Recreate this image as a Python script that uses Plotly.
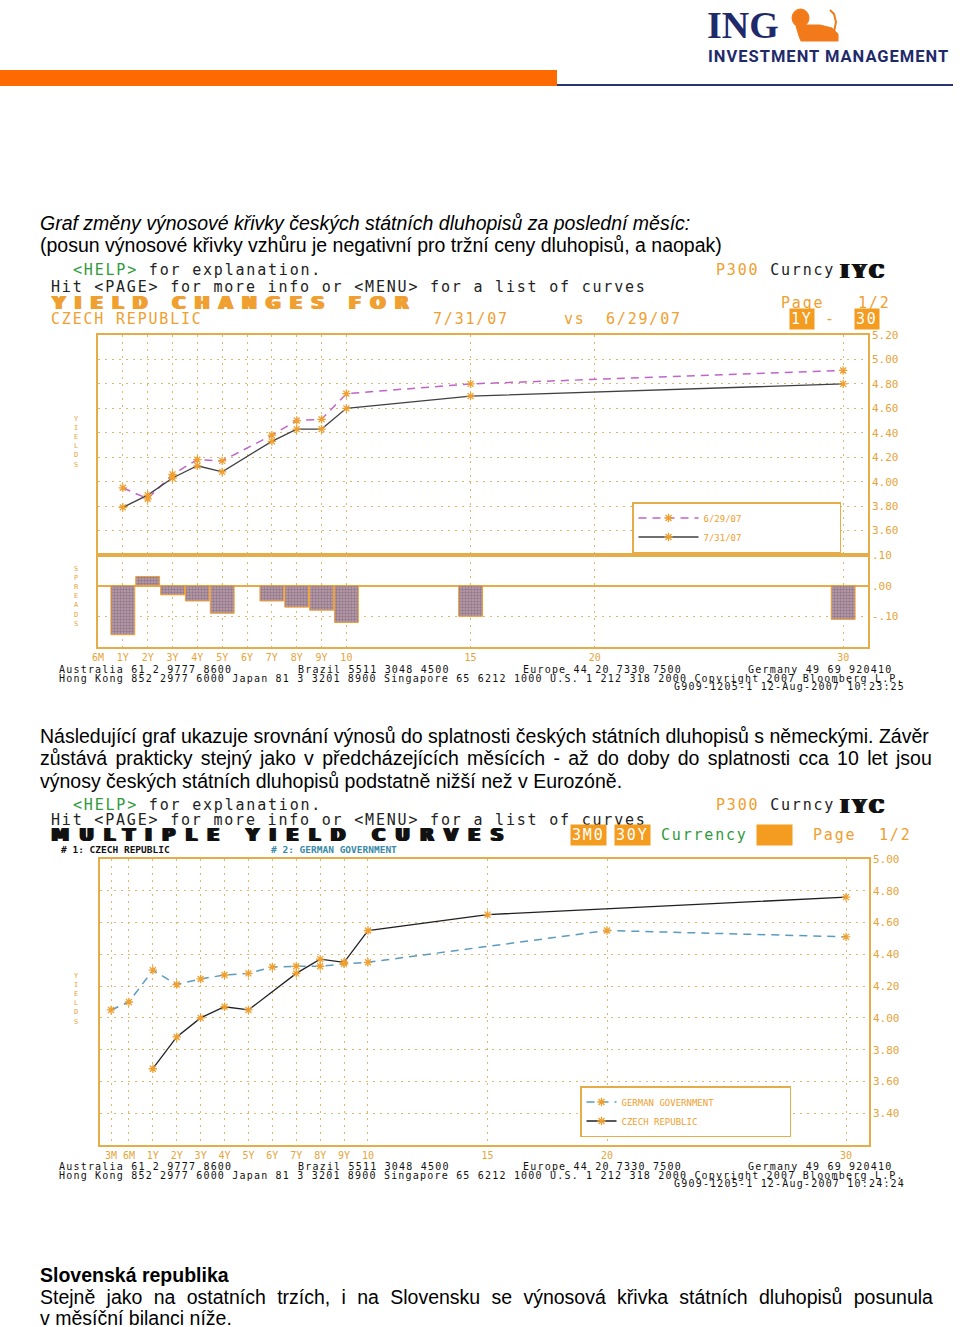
import plotly.graph_objects as go

W, H = 960, 1327

# ---------------- data ----------------
# Chart 1: Czech yield curve changes 7/31/07 vs 6/29/07
tenor_labels_1 = ["6M", "1Y", "2Y", "3Y", "4Y", "5Y", "6Y", "7Y", "8Y", "9Y", "10", "15", "20", "30"]
tenor_pos_1 = [0, 1, 2, 3, 4, 5, 6, 7, 8, 9, 10, 15, 20, 30]
cz_tenors = [1, 2, 3, 4, 5, 7, 8, 9, 10, 15, 30]
cz_yield_0629 = [3.95, 3.86, 4.06, 4.18, 4.17, 4.38, 4.50, 4.51, 4.72, 4.80, 4.91]
cz_yield_0731 = [3.79, 3.89, 4.03, 4.13, 4.08, 4.33, 4.43, 4.43, 4.60, 4.70, 4.80]
cz_change = [-0.16, 0.03, -0.03, -0.05, -0.09, -0.05, -0.07, -0.08, -0.12, -0.10, -0.11]
yield_ticks_1 = [3.60, 3.80, 4.00, 4.20, 4.40, 4.60, 4.80, 5.00, 5.20]
spread_ticks = [0.10, 0.00, -0.10]
spread_ticktext = [".10", ".00", "-.10"]

# Chart 2: Czech vs German government curves
tenor_labels_2 = ["3M", "6M", "1Y", "2Y", "3Y", "4Y", "5Y", "6Y", "7Y", "8Y", "9Y", "10", "15", "20", "30"]
tenor_pos_2 = [-0.75, 0, 1, 2, 3, 4, 5, 6, 7, 8, 9, 10, 15, 20, 30]
de_tenors = [-0.75, 0, 1, 2, 3, 4, 5, 6, 7, 8, 9, 10, 20, 30]
de_yield = [4.05, 4.10, 4.30, 4.21, 4.245, 4.27, 4.28, 4.32, 4.325, 4.325, 4.34, 4.35, 4.55, 4.51]
cz2_tenors = [1, 2, 3, 4, 5, 7, 8, 9, 10, 15, 30]
cz2_yield = [3.68, 3.88, 4.00, 4.07, 4.05, 4.28, 4.37, 4.35, 4.55, 4.65, 4.76]
yield_ticks_2 = [3.40, 3.60, 3.80, 4.00, 4.20, 4.40, 4.60, 4.80, 5.00]

# ---------------- styles ----------------
FRAME = "#e5ac48"
GRID = "#dcb870"
TICK = "#e6a43a"
ORANGE = "#f0a030"
BOX = "#f39c1f"
GREEN = "#2f9a3a"
DARK = "#222222"
MONO = "DejaVu Sans Mono"
DOC = "Liberation Sans"
MARK = dict(symbol="asterisk-open", size=7, color=ORANGE, line=dict(color=ORANGE, width=1.3))
NB = "\u00a0"


def px(x):
    return x / W


def py(y):
    return 1 - y / H


fig = go.Figure()

fig.add_trace(go.Scatter(x=cz_tenors, y=cz_yield_0629, name="6/29/07" + NB * 17, mode="lines+markers",
                         line=dict(color="#c065c8", width=1.5, dash="8px,6px"), marker=MARK,
                         xaxis="x", yaxis="y", legend="legend"))
fig.add_trace(go.Scatter(x=cz_tenors, y=cz_yield_0731, name="7/31/07", mode="lines+markers",
                         line=dict(color="#404040", width=1.3), marker=MARK,
                         xaxis="x", yaxis="y", legend="legend"))
fig.add_trace(go.Bar(x=cz_tenors, y=cz_change, width=0.96, showlegend=False,
                     marker=dict(color="#a58898", line=dict(color=ORANGE, width=1),
                                 pattern=dict(shape=".", fgcolor="#6b5062", bgcolor="#b9a0ae", size=3, solidity=0.5)),
                     xaxis="x2", yaxis="y2"))
fig.add_trace(go.Scatter(x=de_tenors, y=de_yield, name="GERMAN GOVERNMENT" + NB * 13, mode="lines+markers",
                         line=dict(color="#5b9bbd", width=1.5, dash="8px,6px"), marker=MARK,
                         xaxis="x3", yaxis="y3", legend="legend2"))
fig.add_trace(go.Scatter(x=cz2_tenors, y=cz2_yield, name="CZECH REPUBLIC", mode="lines+markers",
                         line=dict(color="#202020", width=1.3), marker=MARK,
                         xaxis="x3", yaxis="y3", legend="legend2"))

grid_common = dict(showgrid=True, gridcolor=GRID, griddash="2px,5px", gridwidth=1,
                   showline=True, linecolor=FRAME, linewidth=1.5, mirror=True,
                   zeroline=False, ticks="", fixedrange=True, automargin=False)
TF = dict(family=MONO, size=11, color=TICK)
XF = dict(family=MONO, size=10, color=TICK)

fig.update_layout(
    width=W, height=H, margin=dict(l=0, r=0, t=0, b=0, pad=0, autoexpand=False),
    paper_bgcolor="white", plot_bgcolor="white",
    xaxis=dict(domain=[px(98), px(868)], range=[0, 31], tickvals=tenor_pos_1,
               showticklabels=False, anchor="y", **grid_common),
    yaxis=dict(domain=[py(555), py(335)], range=[3.40, 5.20], side="right", anchor="x",
               tickvals=yield_ticks_1, tickformat=".2f", tickfont=TF, **grid_common),
    xaxis2=dict(domain=[px(98), px(868)], range=[0, 31], tickvals=tenor_pos_1, ticktext=tenor_labels_1,
                anchor="y2", tickfont=XF, **grid_common),
    yaxis2=dict(domain=[py(647), py(555)], range=[-0.20, 0.10], side="right", anchor="x2",
                tickvals=spread_ticks, ticktext=spread_ticktext, tickfont=TF,
                **{**grid_common, "zeroline": True}, zerolinecolor=FRAME, zerolinewidth=1.5),
    xaxis3=dict(domain=[px(100), px(869)], range=[-1.21, 30.96], tickvals=tenor_pos_2, ticktext=tenor_labels_2,
                anchor="y3", tickfont=XF, **grid_common),
    yaxis3=dict(domain=[py(1145), py(859)], range=[3.20, 5.00], side="right", anchor="x3",
                tickvals=yield_ticks_2, tickformat=".2f", tickfont=TF, **grid_common),
    legend=dict(x=px(632), y=py(502), xanchor="left", yanchor="top", bgcolor="white",
                bordercolor=FRAME, borderwidth=1.5, font=dict(family=MONO, size=9, color=ORANGE),
                itemwidth=60, tracegroupgap=0),
    legend2=dict(x=px(580), y=py(1086), xanchor="left", yanchor="top", bgcolor="white",
                 bordercolor=FRAME, borderwidth=1.5, font=dict(family=MONO, size=9, color=ORANGE),
                 itemwidth=30, tracegroupgap=0),
    showlegend=True,
)

ann = []


def ls(text, sp):
    return '<span style="letter-spacing:%spx">%s</span>' % (sp, text)


def ws(text, sp):
    return '<span style="word-spacing:%spx">%s</span>' % (sp, text)


def A(x, y, text, size=15, color=DARK, family=MONO, xanchor="left", bg=None, shadow=None, sp=None):
    f = dict(size=size, color=color, family=family)
    if shadow:
        f["shadow"] = shadow
    if sp is not None:
        text = ls(text, sp)
    d = dict(x=px(x), y=py(y), xref="paper", yref="paper", text=text, showarrow=False,
             xanchor=xanchor, yanchor="middle", font=f, borderpad=1)
    if bg:
        d["bgcolor"] = bg
    ann.append(d)


def sh(c):
    return "1px 0 0 %s, 2px 0 0 %s, 3px 0 0 %s" % (c, c, c)


M = 1.8  # letter spacing for the terminal font

# ---- logo ----
A(705, 25, "<b>ING</b>", size=38, color="#1f2a6b", family="Liberation Serif")
A(706, 57, "<b>" + ls("INVESTMENT MANAGEMENT", 1) + "</b>", size=16.5, color="#1f2a6b", family="Roboto")

# ---- document text ----
DS = 19.5
A(38, 223, "<i>Graf změny výnosové křivky českých státních dluhopisů za poslední měsíc:</i>",
  size=DS, color="#000", family=DOC)
A(38, 245, "(posun výnosové křivky vzhůru je negativní pro tržní ceny dluhopisů, a naopak)",
  size=DS, color="#000", family=DOC)
A(38, 736, "Následující graf ukazuje srovnání výnosů do splatnosti českých státních dluhopisů s německými. Závěr",
  size=DS, color="#000", family=DOC)
A(38, 758, ws("zůstává prakticky stejný jako v předcházejících měsících - až do doby do splatnosti cca 10 let jsou", 2.9),
  size=DS, color="#000", family=DOC)
A(38, 781, "výnosy českých státních dluhopisů podstatně nižší než v Eurozóně.",
  size=DS, color="#000", family=DOC)
A(38, 1275, "<b>Slovenská republika</b>", size=DS, color="#000", family=DOC)
A(38, 1297, ws("Stejně jako na ostatních trzích, i na Slovensku se výnosová křivka státních dluhopisů posunula", 5.9),
  size=DS, color="#000", family=DOC)
A(38, 1318, "v měsíční bilanci níže.", size=DS, color="#000", family=DOC)

# ---- chart 1 header ----
A(71, 270, '<span style="color:%s">&lt;HELP&gt;</span> for explanation.' % GREEN, sp=M)
A(714, 270, '<span style="color:%s">P300</span> Curncy' % ORANGE, sp=M)
A(837, 271, "<b>" + ls("IYC", 4) + "</b>", size=18, color="#111", family="DejaVu Serif", shadow=sh("#111"))
A(49, 287, "Hit &lt;PAGE&gt; for more info or &lt;MENU&gt; for a list of curves", sp=M)
A(48, 303, "<b>" + ls("YIELD CHANGES FOR", 9.5) + "</b>", size=17.5, color=ORANGE,
  family="DejaVu Sans", shadow=sh(ORANGE))
A(779, 303, "Page", color=ORANGE, sp=M)
A(856, 303, "1/2", color=ORANGE, sp=M)
A(49, 319, "CZECH REPUBLIC", color=ORANGE, sp=M)
A(431, 319, "7/31/07", color=ORANGE, sp=M)
A(562, 319, "vs", color=ORANGE, sp=M)
A(604, 319, "6/29/07", color=ORANGE, sp=M)
A(789, 319, "1Y", color="white", bg=BOX, sp=M)
A(823, 319, "-", color=ORANGE, sp=M)
A(854, 319, "30", color="white", bg=BOX, sp=M)
A(76, 442, "Y<br>I<br>E<br>L<br>D<br>S", size=7, color=TICK, xanchor="center")
A(76, 596, "S<br>P<br>R<br>E<br>A<br>D<br>S", size=7, color=TICK, xanchor="center")

# ---- footers ----
FS = 10
FL = 1.2


def footer(y0, stamp):
    A(57, y0, "Australia 61 2 9777 8600", size=FS, color="#111", sp=FL)
    A(296, y0, "Brazil 5511 3048 4500", size=FS, color="#111", sp=FL)
    A(521, y0, "Europe 44 20 7330 7500", size=FS, color="#111", sp=FL)
    A(746, y0, "Germany 49 69 920410", size=FS, color="#111", sp=FL)
    A(57, y0 + 9, "Hong Kong 852 2977 6000 Japan 81 3 3201 8900 Singapore 65 6212 1000 U.S. 1 212 318 2000 Copyright 2007 Bloomberg L.P.",
      size=FS, color="#111", sp=FL)
    A(907, y0 + 17, stamp, size=FS, color="#111", xanchor="right", sp=FL)


footer(669, "G909-1205-1 12-Aug-2007 10:23:25")
footer(1166, "G909-1205-1 12-Aug-2007 10:24:24")

# ---- chart 2 header ----
A(71, 805, '<span style="color:%s">&lt;HELP&gt;</span> for explanation.' % GREEN, sp=M)
A(714, 805, '<span style="color:%s">P300</span> Curncy' % ORANGE, sp=M)
A(837, 806, "<b>" + ls("IYC", 4) + "</b>", size=18, color="#111", family="DejaVu Serif", shadow=sh("#111"))
A(49, 820, "Hit &lt;PAGE&gt; for more info or &lt;MENU&gt; for a list of curves", sp=M)
A(48, 835, "<b>" + ls("MULTIPLE YIELD CURVES", 10.5) + "</b>", size=17.5, color="#111",
  family="DejaVu Sans", shadow=sh("#111"))
A(570, 835, "3M0", color="white", bg=BOX, sp=M)
A(614, 835, "30Y", color="white", bg=BOX, sp=M)
A(659, 835, "Currency", color=GREEN, sp=M)
A(756, 835, NB * 3, color="white", bg=BOX, sp=M)
A(811, 835, "Page", color=ORANGE, sp=M)
A(877, 835, "1/2", color=ORANGE, sp=M)
A(59, 849, "<b># 1: CZECH REPUBLIC</b>", size=9.5, color="#111")
A(269, 849, "<b># 2: GERMAN GOVERNMENT</b>", size=9.5, color="#3a8aa8")
A(76, 999, "Y<br>I<br>E<br>L<br>D<br>S", size=7, color=TICK, xanchor="center")

fig.update_layout(annotations=ann)

# ---- decorative shapes (page header) ----
shapes = []
shapes.append(dict(type="rect", xref="paper", yref="paper", x0=px(0), x1=px(557), y0=py(86), y1=py(70),
                   fillcolor="#ff6a00", line=dict(width=0), layer="below"))
shapes.append(dict(type="line", xref="paper", yref="paper", x0=px(557), x1=px(953), y0=py(85), y1=py(85),
                   line=dict(color="#2a3470", width=2)))


def path(points, close=True):
    s = "M " + " L ".join("%.5f %.5f" % (px(a), py(b)) for a, b in points)
    return s + (" Z" if close else "")


LION = "#f27a1a"
shapes.append(dict(type="path", xref="paper", yref="paper",
                   path=path([(796, 26), (799, 36), (801, 41), (838, 41), (838, 34), (832, 28),
                              (820, 25), (808, 25)]),
                   fillcolor=LION, line=dict(color=LION, width=1)))
shapes.append(dict(type="circle", xref="paper", yref="paper", x0=px(792), x1=px(809), y0=py(27), y1=py(9),
                   fillcolor=LION, line=dict(color=LION, width=1)))
shapes.append(dict(type="path", xref="paper", yref="paper",
                   path=path([(834, 32), (836, 22), (834, 14), (830, 10)], close=False),
                   line=dict(color=LION, width=2)))
fig.update_layout(shapes=shapes)

fig.write_html("out.html", config={"displayModeBar": False},
               post_script="document.body.style.margin='0px';")
